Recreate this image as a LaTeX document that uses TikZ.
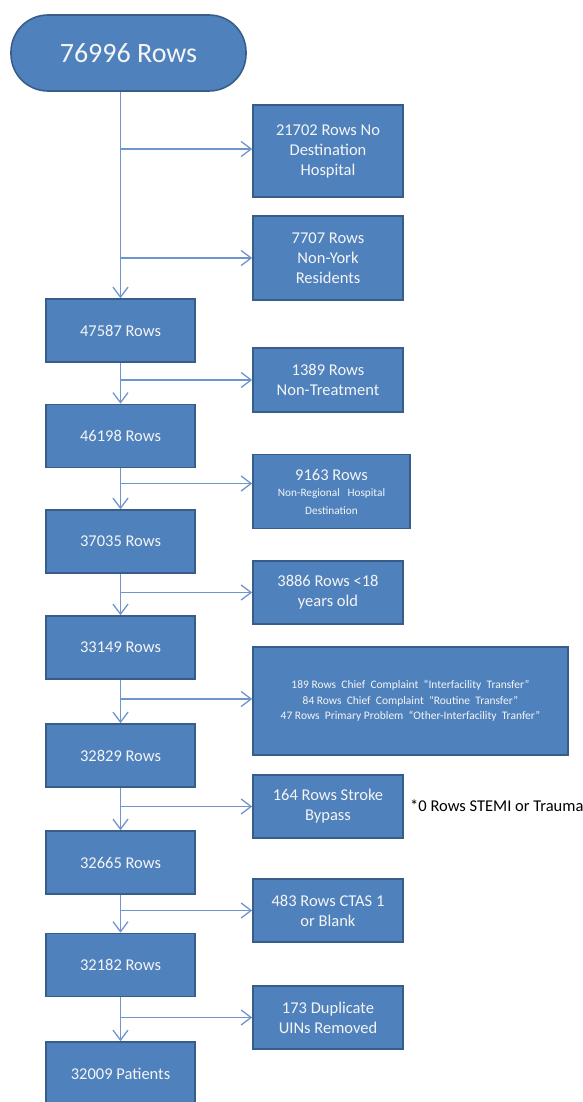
\documentclass[tikz,border=0pt]{standalone}
\usepackage{fontspec}
\setmainfont{Carlito}
\usetikzlibrary{arrows.meta,calc}
\definecolor{boxfill}{RGB}{79,129,189}
\definecolor{boxedge}{RGB}{56,93,138}
\definecolor{linkcol}{RGB}{110,150,205}
\definecolor{txtcol}{RGB}{245,245,245}
\begin{document}
\begin{tikzpicture}[x=1pt,y=-1pt,
  mainbox/.style={draw=boxedge,line width=1.6pt,fill=boxfill,text=txtcol,
    minimum width=149pt,minimum height=63pt,inner sep=0pt,align=center,
    font=\fontsize{16.5}{20}\selectfont},
  sidebox/.style={draw=boxedge,line width=1.6pt,fill=boxfill,text=txtcol,
    minimum width=150pt,minimum height=63pt,inner sep=0pt,align=center,
    font=\fontsize{16.5}{20}\selectfont},
  link/.style={draw=linkcol,line width=1.3pt,-{Straight Barb[length=10pt,width=15pt]}},
  smalltxt/.style={font=\fontsize{11.5}{15.5}\selectfont}]
\useasboundingbox (0,0) rectangle (583,1102);

% start pill
\node[draw=boxedge,line width=1.6pt,fill=boxfill,text=txtcol,rounded corners=37pt,
  minimum width=235pt,minimum height=76pt,inner sep=0pt,
  font=\fontsize{28}{32}\selectfont] (start) at (128.5,53) {76996 Rows};

% main boxes
\node[mainbox] (m1) at (120.5,330.5) {47587 Rows};
\node[mainbox] (m2) at (120.5,436) {46198 Rows};
\node[mainbox] (m3) at (120.5,541.5) {37035 Rows};
\node[mainbox] (m4) at (120.5,647.5) {33149 Rows};
\node[mainbox] (m5) at (120.5,755.5) {32829 Rows};
\node[mainbox] (m6) at (120.5,862.5) {32665 Rows};
\node[mainbox] (m7) at (120.5,965) {32182 Rows};
\node[mainbox] (m8) at (120.5,1073.5) {32009 Patients};

% side boxes
\node[sidebox,minimum height=92pt] (s1) at (328,151) {21702 Rows No\\Destination\\Hospital};
\node[sidebox,minimum height=84pt] (s2) at (328,258) {7707 Rows\\Non-York\\Residents};
\node[sidebox,minimum height=64pt] (s3) at (328,380) {1389 Rows\\Non-Treatment};
\node[sidebox,minimum width=157pt,minimum height=74pt] (s4) at (331.5,491.5)
  {9163 Rows\\[-4pt]{\fontsize{11.3}{16}\selectfont Non-Regional\ \ \ Hospital}\\[-2pt]{\fontsize{11.3}{13}\selectfont Destination}};
\node[sidebox,minimum height=63pt] (s5) at (328,592.5) {3886 Rows <18\\years old};
\node[sidebox,minimum width=315pt,minimum height=108pt,smalltxt] (s6) at (410.5,701)
  {189 Rows\ \ Chief\ \ Complaint\ \ “Interfacility\ \ Transfer”\\
   84 Rows\ \ Chief\ \ Complaint\ \ “Routine\ \ Transfer”\\
   47 Rows\ \ Primary Problem\ \ “Other-Interfacility\ \ Tranfer”};
\node[sidebox,minimum height=63pt] (s7) at (328,806.5) {164 Rows Stroke\\Bypass};
\node[sidebox,minimum height=63pt] (s8) at (328,910.5) {483 Rows CTAS 1\\or Blank};
\node[sidebox,minimum height=63pt] (s9) at (328,1017.5) {173 Duplicate\\UINs Removed};

\node[anchor=west,inner sep=0pt,font=\fontsize{16.5}{20}\selectfont] (note) at (410,806)
  {*0 Rows STEMI or Trauma};

% spine and branches
\draw[link] (start.south -| m1.north) -- (m1.north);
\draw[link] (m1.south) -- (m2.north);
\draw[link] (m2.south) -- (m3.north);
\draw[link] (m3.south) -- (m4.north);
\draw[link] (m4.south) -- (m5.north);
\draw[link] (m5.south) -- (m6.north);
\draw[link] (m6.south) -- (m7.north);
\draw[link] (m7.south) -- (m8.north);

\coordinate (b1) at ($(s1.west)+(0,-2)$);
\draw[link] (b1 -| m1.north) -- (b1);
\draw[link] (s2.west -| m1.north) -- (s2.west);
\draw[link] (s3.west -| m1.north) -- (s3.west);
\coordinate (b4) at ($(s4.west)+(0,-8)$);
\draw[link] (b4 -| m1.north) -- (b4);
\draw[link] (s5.west -| m1.north) -- (s5.west);
\coordinate (b6) at ($(s6.west)+(0,-2)$);
\draw[link] (b6 -| m1.north) -- (b6);
\draw[link] (s7.west -| m1.north) -- (s7.west);
\draw[link] (s8.west -| m1.north) -- (s8.west);
\draw[link] (s9.west -| m1.north) -- (s9.west);
\end{tikzpicture}
\end{document}
